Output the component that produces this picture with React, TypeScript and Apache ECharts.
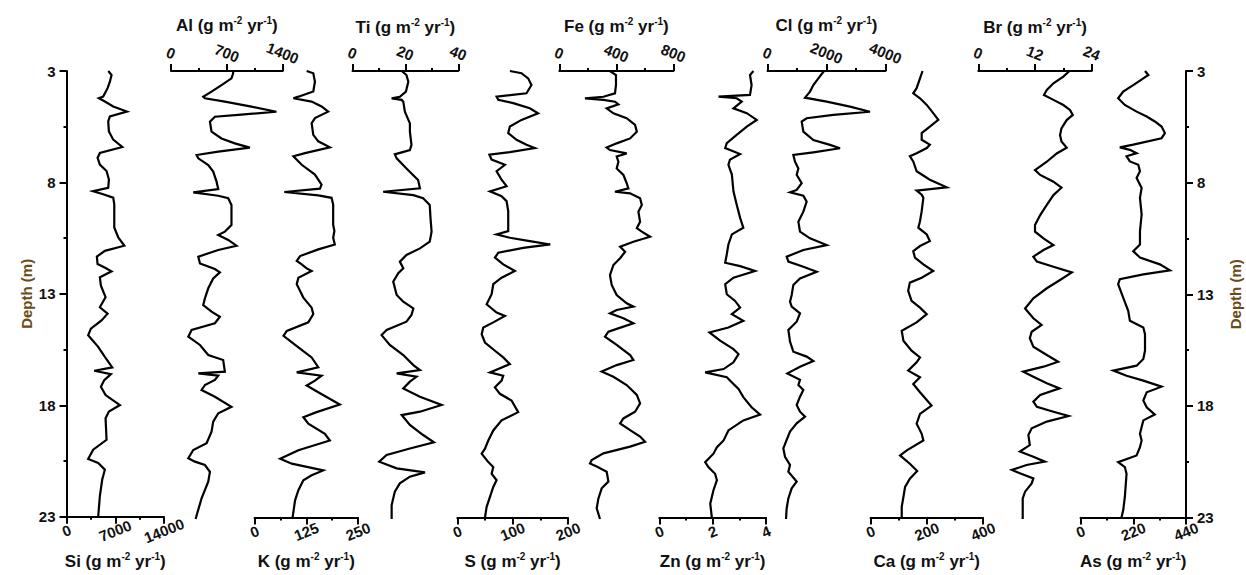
import React, { useEffect, useRef } from "react";
import * as echarts from "echarts";

// Element fluxes down the core: [depth (m), flux (g m-2 yr-1)]
const siProfile = [
  [3.0, 6000], [3.18, 6470], [3.48, 6230], [3.77, 5900], [4.15, 5270], [4.22, 4650], [4.37, 5510], [4.59, 6710],
  [4.82, 8680], [5.04, 6230], [5.26, 5990], [5.71, 6090], [6.08, 6710], [6.41, 8010], [6.68, 4790], [6.9, 4460],
  [7.2, 4790], [7.49, 5750], [7.87, 6090], [8.24, 5990], [8.39, 3790], [8.51, 5030], [8.68, 6710], [8.98, 6860],
  [10.02, 6860], [10.47, 7430], [10.84, 8300], [11.07, 5510], [11.33, 4360], [11.66, 4460], [11.84, 5610],
  [11.99, 6470], [12.26, 4790], [12.63, 4940], [13.15, 5610], [13.6, 4790], [13.89, 5900], [14.19, 5030],
  [14.56, 3500], [14.86, 3110], [15.38, 4550], [15.83, 5510], [16.3, 6570], [16.45, 3980], [16.6, 6380],
  [16.87, 5420], [17.17, 4940], [17.54, 5610], [17.99, 7670], [18.28, 6090], [18.58, 5610], [19.55, 5750],
  [19.99, 3830], [20.41, 3110], [20.59, 4550], [20.89, 5510], [21.33, 5130], [22.08, 4790], [23.0, 4550],
];

const alProfile = [
  [3.0, 779], [3.1, 779], [3.33, 758], [3.63, 633], [3.92, 508], [4.15, 404], [4.22, 425], [4.37, 675],
  [4.59, 1008], [4.82, 1321], [4.96, 842], [5.04, 550], [5.26, 488], [5.71, 508], [6.01, 633], [6.23, 800],
  [6.42, 988], [6.6, 592], [6.75, 321], [6.9, 342], [7.2, 467], [7.49, 529], [7.94, 571], [8.27, 592],
  [8.42, 279], [8.57, 592], [8.68, 717], [8.98, 758], [9.88, 758], [10.17, 675], [10.32, 592], [10.54, 717],
  [10.8, 821], [10.99, 592], [11.29, 342], [11.59, 363], [11.84, 550], [11.99, 613], [12.26, 529], [12.7, 467],
  [13.15, 425], [13.45, 404], [13.74, 508], [13.97, 613], [14.26, 550], [14.56, 258], [14.86, 217], [15.23, 363],
  [15.68, 467], [15.9, 654], [16.42, 675], [16.5, 342], [16.6, 592], [16.79, 550], [17.02, 425], [17.24, 383],
  [17.54, 550], [17.99, 758], [18.28, 592], [18.65, 529], [19.1, 508], [19.62, 446], [19.92, 279], [20.29, 217],
  [20.44, 300], [20.59, 425], [20.89, 488], [21.33, 467], [22.08, 383], [23.0, 308],
];

const kProfile = [
  [3.0, 126], [3.1, 142], [3.48, 146], [3.92, 142], [4.15, 106], [4.22, 94], [4.37, 138], [4.59, 162], [4.82, 178],
  [5.11, 146], [5.34, 138], [5.86, 142], [6.15, 154], [6.42, 182], [6.68, 122], [6.82, 94], [7.2, 114], [7.64, 146],
  [8.09, 162], [8.27, 158], [8.42, 72], [8.57, 154], [8.68, 186], [8.98, 190], [9.88, 190], [10.17, 193],
  [10.47, 190], [10.77, 194], [10.99, 154], [11.29, 110], [11.51, 102], [11.66, 114], [11.84, 126], [11.96, 138],
  [12.26, 106], [12.55, 102], [13.15, 118], [13.6, 138], [13.89, 142], [14.26, 130], [14.64, 78], [14.86, 70],
  [15.38, 106], [15.83, 138], [16.27, 154], [16.5, 102], [16.65, 162], [16.87, 146], [17.09, 126], [17.39, 154],
  [17.94, 206], [18.28, 150], [18.51, 118], [18.8, 130], [19.25, 170], [19.55, 182], [19.99, 106], [20.37, 62],
  [20.59, 90], [20.89, 166], [21.11, 138], [21.33, 118], [21.78, 106], [22.23, 98], [23.0, 92],
];

const tiProfile = [
  [3.0, 18.6], [3.18, 20.4], [3.48, 21.1], [3.92, 20.2], [4.15, 17.9], [4.22, 14.8], [4.29, 18.6], [4.37, 19.2],
  [4.82, 19.8], [5.34, 21.7], [5.71, 21.7], [6.3, 22.3], [6.53, 21.7], [6.72, 16.0], [6.9, 16.7], [7.35, 20.4],
  [7.87, 24.8], [8.24, 25.5], [8.39, 11.6], [8.54, 23.0], [8.68, 26.7], [8.98, 29.2], [9.58, 29.5], [10.17, 29.9],
  [10.62, 29.2], [10.92, 25.5], [11.21, 20.4], [11.51, 17.9], [11.81, 19.2], [12.03, 17.3], [12.4, 15.4],
  [13.0, 16.7], [13.3, 19.2], [13.6, 23.0], [13.89, 22.3], [14.19, 20.4], [14.56, 12.9], [14.79, 11.0],
  [15.23, 14.1], [15.68, 19.2], [16.13, 23.0], [16.35, 25.5], [16.5, 16.7], [16.65, 24.2], [16.87, 21.7],
  [17.17, 19.2], [17.54, 25.5], [17.91, 33.7], [18.21, 25.5], [18.36, 18.6], [18.8, 21.7], [19.25, 26.7],
  [19.58, 30.8], [19.85, 21.7], [20.14, 12.9], [20.44, 10.1], [20.74, 16.7], [20.92, 27.4], [21.11, 21.7],
  [21.41, 17.9], [21.78, 16.0], [22.38, 14.8], [23.0, 14.8],
];

const sProfile = [
  [3.0, 95], [3.1, 116], [3.33, 128], [3.63, 134], [4.0, 125], [4.15, 71], [4.29, 74], [4.44, 101], [4.67, 131],
  [4.89, 146], [5.19, 116], [5.49, 95], [5.78, 92], [6.08, 107], [6.3, 125], [6.45, 140], [6.63, 95], [6.75, 58],
  [6.97, 62], [7.2, 86], [7.49, 71], [7.87, 80], [8.16, 89], [8.39, 59], [8.61, 80], [8.83, 89], [9.28, 92],
  [10.17, 92], [10.32, 71], [10.47, 95], [10.62, 131], [10.77, 168], [10.92, 119], [11.14, 74], [11.36, 68],
  [11.66, 83], [11.96, 104], [12.26, 80], [12.55, 65], [13.0, 62], [13.45, 53], [13.82, 71], [13.97, 86],
  [14.26, 65], [14.49, 47], [14.79, 44], [15.16, 50], [15.53, 68], [15.83, 83], [16.13, 95], [16.5, 59],
  [16.65, 83], [16.87, 80], [17.17, 68], [17.46, 77], [17.76, 98], [18.28, 110], [18.65, 80], [19.1, 65],
  [19.55, 56], [19.92, 50], [20.14, 44], [20.52, 56], [20.74, 65], [21.04, 62], [21.33, 71], [21.63, 65],
  [22.08, 59], [22.52, 53], [23.0, 50],
];

const feProfile = [
  [3.0, 355], [3.18, 397], [3.63, 397], [4.0, 390], [4.15, 309], [4.22, 180], [4.29, 309], [4.37, 390], [4.49, 414],
  [4.67, 332], [4.89, 379], [5.11, 472], [5.41, 531], [5.71, 543], [6.01, 496], [6.23, 402], [6.42, 332], [6.53, 355],
  [6.68, 472], [6.82, 402], [7.05, 414], [7.35, 402], [7.64, 449], [8.01, 472], [8.24, 484], [8.39, 390], [8.46, 496],
  [8.68, 566], [8.98, 578], [9.28, 554], [9.73, 566], [10.02, 543], [10.17, 578], [10.4, 636], [10.62, 519],
  [10.84, 426], [11.07, 461], [11.36, 426], [11.66, 379], [12.11, 355], [12.55, 367], [13.0, 402], [13.37, 472],
  [13.52, 519], [13.67, 402], [13.82, 355], [14.04, 449], [14.26, 519], [14.41, 449], [14.64, 344], [14.86, 320],
  [15.23, 402], [15.68, 496], [15.9, 519], [16.13, 402], [16.42, 297], [16.65, 379], [17.02, 472], [17.46, 543],
  [17.84, 566], [18.21, 531], [18.51, 449], [18.73, 426], [19.03, 496], [19.32, 566], [19.55, 601], [19.77, 496],
  [20.07, 309], [20.37, 227], [20.52, 215], [20.66, 262], [20.89, 332], [21.33, 344], [21.63, 297], [22.08, 274],
  [22.52, 262], [23.0, 285],
];

const znProfile = [
  [3.0, 3.53], [3.18, 3.4], [3.63, 3.46], [4.07, 3.4], [4.15, 2.22], [4.22, 2.9], [4.37, 3.09], [4.67, 2.78],
  [4.89, 3.28], [5.19, 3.65], [5.49, 3.28], [5.86, 2.9], [6.23, 2.53], [6.45, 2.47], [6.72, 3.03], [6.97, 2.65],
  [7.2, 2.59], [7.64, 2.72], [8.39, 2.78], [8.98, 2.9], [9.58, 3.03], [10.02, 3.15], [10.32, 2.72], [10.77, 2.59],
  [11.21, 2.53], [11.59, 2.47], [11.74, 3.03], [11.96, 3.59], [12.26, 2.78], [12.55, 2.47], [13.0, 2.53],
  [13.3, 2.84], [13.6, 3.03], [13.89, 2.72], [14.19, 3.15], [14.49, 2.59], [14.71, 1.88], [15.08, 2.28],
  [15.46, 2.78], [15.68, 2.97], [16.05, 2.78], [16.35, 2.41], [16.5, 1.72], [16.72, 2.53], [17.02, 2.78],
  [17.24, 2.97], [17.61, 3.15], [18.06, 3.46], [18.39, 3.78], [18.65, 3.15], [19.1, 2.59], [19.55, 2.41],
  [19.85, 2.16], [20.14, 2.03], [20.52, 1.72], [20.74, 1.84], [21.04, 2.09], [21.33, 2.16], [21.78, 2.03],
  [22.38, 1.91], [23.0, 1.97],
];

const clProfile = [
  [3.0, 1916], [3.33, 1724], [3.63, 1554], [3.92, 1441], [4.19, 1272], [4.37, 2006], [4.59, 2797], [4.82, 3475],
  [4.96, 2232], [5.11, 1328], [5.26, 1159], [5.71, 1215], [6.08, 1554], [6.3, 2119], [6.45, 2458], [6.63, 1554],
  [6.75, 876], [7.05, 933], [7.35, 1046], [7.64, 989], [8.01, 1159], [8.31, 989], [8.42, 763], [8.57, 1215],
  [8.83, 1328], [9.28, 1215], [9.73, 1046], [10.17, 1102], [10.47, 1441], [10.77, 2006], [10.99, 1215],
  [11.29, 650], [11.51, 707], [11.74, 1215], [11.96, 1667], [12.26, 1102], [12.55, 876], [13.0, 820], [13.3, 763],
  [13.52, 820], [13.82, 1102], [14.19, 989], [14.56, 707], [15.08, 763], [15.53, 876], [15.75, 1328],
  [15.95, 1554], [16.2, 1102], [16.5, 673], [16.79, 1102], [17.02, 1046], [17.24, 1215], [17.54, 1102],
  [17.91, 989], [18.21, 1102], [18.43, 1272], [18.73, 989], [19.1, 763], [19.47, 650], [19.85, 537], [20.22, 594],
  [20.59, 763], [20.89, 707], [21.33, 989], [21.63, 820], [22.08, 707], [22.52, 650], [23.0, 627],
];

const caProfile = [
  [3.0, 185], [3.33, 176], [3.77, 164], [4.0, 152], [4.22, 176], [4.52, 200], [4.89, 223], [5.19, 241], [5.49, 211],
  [5.78, 182], [6.08, 182], [6.3, 211], [6.45, 200], [6.68, 164], [6.82, 140], [7.05, 152], [7.49, 164], [7.87, 211],
  [8.21, 271], [8.36, 164], [8.54, 182], [8.68, 188], [9.28, 182], [9.73, 176], [10.02, 170], [10.32, 200],
  [10.62, 211], [10.84, 176], [11.07, 152], [11.36, 158], [11.66, 188], [11.96, 223], [12.26, 182], [12.48, 140],
  [12.85, 134], [13.3, 146], [13.6, 176], [13.89, 200], [14.26, 164], [14.64, 111], [15.08, 117], [15.53, 146],
  [15.83, 176], [16.05, 164], [16.42, 134], [16.72, 176], [17.02, 152], [17.39, 176], [17.99, 217], [18.36, 176],
  [18.8, 164], [19.25, 182], [19.55, 188], [19.99, 129], [20.22, 105], [20.59, 140], [20.92, 166], [21.26, 140],
  [21.63, 123], [22.08, 117], [22.52, 111], [23.0, 111],
];

const brProfile = [
  [3.0, 19.3], [3.25, 18.0], [3.55, 15.9], [3.85, 14.5], [4.07, 13.9], [4.29, 15.9], [4.52, 18.0], [4.74, 19.4],
  [4.96, 20.0], [5.19, 18.7], [5.56, 17.6], [5.86, 17.3], [6.15, 17.6], [6.42, 18.7], [6.68, 16.6], [7.05, 14.5],
  [7.42, 12.0], [7.64, 13.1], [7.94, 15.9], [8.21, 17.6], [8.54, 15.9], [8.98, 14.5], [9.43, 13.1], [9.88, 12.0],
  [10.17, 12.0], [10.47, 13.8], [10.77, 15.9], [10.99, 13.8], [11.29, 11.65], [11.51, 12.4], [11.74, 15.9],
  [11.99, 19.8], [12.33, 17.3], [12.7, 14.5], [13.15, 11.65], [13.6, 9.9], [14.04, 11.65], [14.34, 13.4],
  [14.64, 11.3], [14.93, 10.9], [15.31, 11.65], [15.68, 14.5], [15.98, 16.9], [16.2, 13.8], [16.42, 9.5],
  [16.65, 11.65], [16.94, 14.5], [17.17, 17.2], [17.46, 13.1], [17.76, 11.65], [17.99, 12.4], [18.21, 15.9],
  [18.4, 19.1], [18.65, 14.5], [18.95, 11.3], [19.25, 10.6], [19.7, 10.9], [19.99, 8.8], [20.22, 11.65],
  [20.44, 14.1], [20.59, 10.2], [20.81, 7.1], [20.96, 8.8], [21.19, 11.65], [21.41, 11.3], [21.78, 9.9],
  [22.08, 9.4], [23.0, 9.4],
];

const asProfile = [
  [3.0, 269], [3.18, 283], [3.33, 262], [3.63, 220], [3.92, 178], [4.22, 157], [4.52, 185], [4.82, 234], [5.04, 276],
  [5.26, 310], [5.49, 338], [5.78, 352], [6.01, 338], [6.3, 220], [6.42, 164], [6.53, 206], [6.68, 234], [6.82, 192],
  [7.05, 206], [7.2, 241], [7.49, 248], [7.79, 234], [8.24, 255], [8.68, 248], [9.43, 255], [10.17, 248],
  [10.77, 248], [11.07, 220], [11.36, 248], [11.66, 331], [11.93, 373], [12.11, 262], [12.33, 164], [12.55, 157],
  [13.15, 178], [13.74, 199], [14.19, 206], [14.49, 262], [14.79, 269], [15.53, 269], [15.9, 262], [16.2, 234],
  [16.42, 137], [16.65, 192], [16.87, 262], [17.14, 338], [17.39, 276], [17.76, 262], [18.06, 276], [18.39, 310],
  [18.65, 262], [18.95, 255], [19.25, 248], [19.55, 255], [19.85, 248], [20.22, 234], [20.52, 157], [20.74, 185],
  [21.04, 192], [21.48, 189], [22.08, 185], [22.68, 178], [23.0, 171],
];

// Element names, flux axis ranges (max, tick step) and which edge carries each axis
const elements = ["Si", "Al", "K", "Ti", "S", "Fe", "Zn", "Cl", "Ca", "Br", "As"];
const profiles = [siProfile, alProfile, kProfile, tiProfile, sProfile, feProfile, znProfile, clProfile, caProfile, brProfile, asProfile];
const axisMax = [14000, 1400, 250, 40, 200, 800, 4, 4000, 400, 24, 440];
const axisStep = [7000, 700, 125, 20, 100, 400, 2, 2000, 200, 12, 220];
const axisSide = ["bottom", "top", "bottom", "top", "bottom", "top", "bottom", "top", "bottom", "top", "bottom"];

const depthMin = 3;
const depthMax = 23;
const depthStep = 5;

// Panel placement in pixels: [left, width]
const panelBox = [
  [66.5, 97.5], [171, 111.7], [254.5, 103.5], [352.5, 105.8], [457.3, 110.7], [559.3, 114.2],
  [659.3, 106.7], [767.5, 118], [870.5, 112.5], [978.3, 113.4], [1080.5, 105.5],
];

const FONT = "'Liberation Sans', Arial, Helvetica, sans-serif";
const INK = "#111";

export default function App() {
  const ref = useRef<HTMLDivElement>(null);

  useEffect(() => {
    if (!ref.current) return;
    const chart = echarts.init(ref.current, undefined, { renderer: "svg" });
    const n = elements.length;

    const grid = panelBox.map(([left, width]) => ({ left, width, top: 71, height: 448, containLabel: false }));

    const xAxis = elements.map((el, i) => ({
      type: "value",
      gridIndex: i,
      position: axisSide[i],
      min: 0,
      max: axisMax[i],
      interval: axisStep[i],
      name: `{t|${el} (g m}{s|-2}{t| yr}{s|-1}{t|)}`,
      nameLocation: "middle",
      nameGap: 44,
      nameTextStyle: {
        fontFamily: FONT,
        fontSize: 17,
        fontWeight: "bold",
        color: INK,
        align: "center",
        verticalAlign: "middle",
        rich: {
          t: { fontFamily: FONT, fontSize: 17, fontWeight: "bold", color: INK, lineHeight: 20 },
          s: { fontFamily: FONT, fontSize: 10, fontWeight: "bold", color: INK, lineHeight: 9, verticalAlign: "top" },
        },
      },
      axisLine: { show: true, onZero: false, lineStyle: { color: "#000", width: 2 } },
      axisTick: { show: true, inside: false, length: 7, lineStyle: { color: "#000", width: 2 } },
      minorTick: { show: true, splitNumber: 2, length: 3, lineStyle: { color: "#000", width: 2 } },
      splitLine: { show: false },
      minorSplitLine: { show: false },
      axisLabel: {
        show: true,
        rotate: 22,
        align: "center",
        verticalAlign: "middle",
        margin: axisSide[i] === "top" ? 18 : 14,
        fontFamily: FONT,
        fontSize: 15,
        fontWeight: "bold",
        color: INK,
        hideOverlap: false,
        showMinLabel: true,
        showMaxLabel: true,
        formatter: (v: number) => String(v),
      },
    }));

    const yAxis = elements.map((_, i) => {
      const isLeft = i === 0;
      const isRight = i === n - 1;
      const shown = isLeft || isRight;
      return {
        type: "value",
        gridIndex: i,
        inverse: true,
        min: depthMin,
        max: depthMax,
        interval: depthStep,
        show: shown,
        position: isRight ? "right" : "left",
        name: shown ? "Depth (m)" : "",
        nameLocation: "middle",
        nameRotate: 90,
        nameGap: isRight ? 49 : 40,
        nameTextStyle: { fontFamily: FONT, fontSize: 15, fontWeight: "bold", color: "#6b4a16", align: "center", verticalAlign: "middle" },
        axisLine: { show: shown, onZero: false, lineStyle: { color: "#000", width: 2 } },
        axisTick: { show: shown, inside: false, length: 7, lineStyle: { color: "#000", width: 2 } },
        minorTick: { show: shown, splitNumber: 2, length: 3, lineStyle: { color: "#000", width: 2 } },
        splitLine: { show: false },
        minorSplitLine: { show: false },
        axisLabel: {
          show: shown,
          margin: 11,
          fontFamily: FONT,
          fontSize: 15,
          fontWeight: "bold",
          color: INK,
          showMinLabel: true,
          showMaxLabel: true,
          formatter: (v: number) => String(v),
        },
      };
    });

    const series = profiles.map((profile, i) => ({
      type: "line",
      name: elements[i],
      xAxisIndex: i,
      yAxisIndex: i,
      data: profile.map(([depth, flux]) => [flux, depth]),
      showSymbol: false,
      symbol: "none",
      clip: false,
      silent: true,
      lineStyle: { color: "#000", width: 2.2, join: "miter" },
    }));

    chart.setOption({
      animation: false,
      backgroundColor: "#fff",
      grid,
      xAxis,
      yAxis,
      series,
    } as any);

    return () => chart.dispose();
  }, []);

  return (
    <div
      ref={ref}
      style={{ position: "fixed", left: 0, top: 0, width: 1246, height: 575, background: "#fff" }}
    />
  );
}
